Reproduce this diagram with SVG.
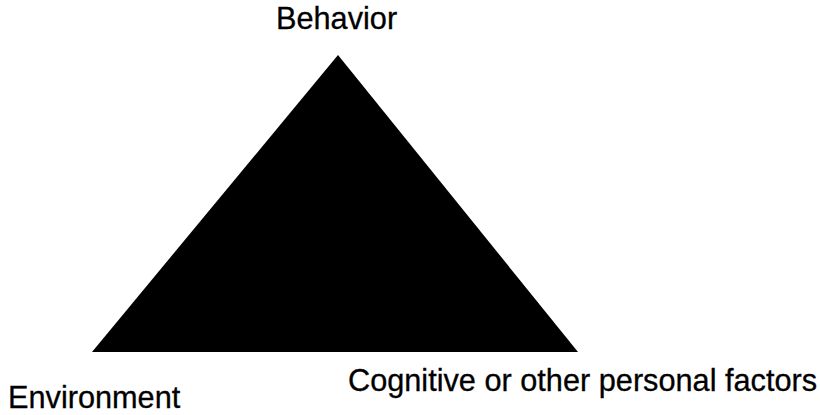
<svg xmlns="http://www.w3.org/2000/svg" width="820" height="415" viewBox="0 0 820 415">
<style>
.lbl{font-family:"Liberation Sans",Arial,sans-serif;font-size:30.7px;fill:#000;stroke:#000;stroke-width:0.3}
</style>
<rect width="820" height="415" fill="#fff"/>
<g id="triangle"><polygon points="338,55 92,352 578,352" fill="#000"/></g>
<g id="connectors"></g>
<g id="behavior"><text class="lbl" x="276" y="29">Behavior</text></g>
<g id="environment"><text class="lbl" x="8" y="408">Environment</text></g>
<g id="cognitive"><text class="lbl" x="348" y="391">Cognitive or other personal factors</text></g>
</svg>
